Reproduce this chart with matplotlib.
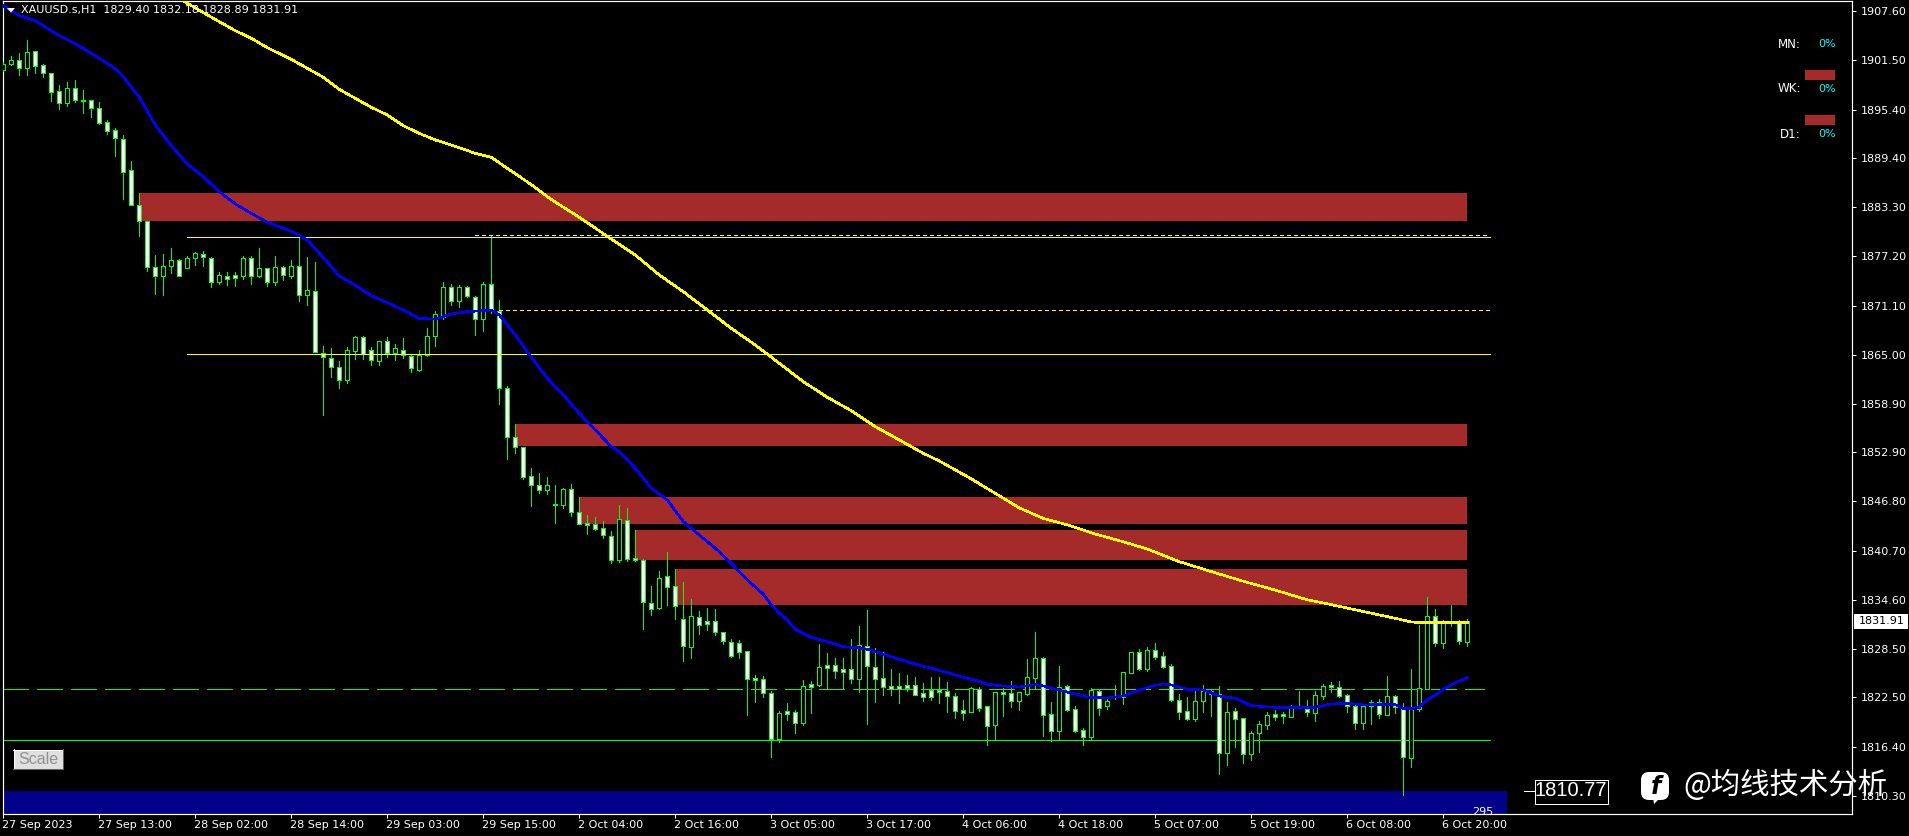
import matplotlib
matplotlib.use('Agg')
import matplotlib.pyplot as plt
from matplotlib.patches import Rectangle, FancyBboxPatch, Polygon
from matplotlib.transforms import Affine2D

# Bars, oldest first
opens = [
    1900.32, 1901.02, 1901.52, 1900.61, 1902.63, 1900.90, 1899.91, 1897.67, 1896.27, 1898.04,
    1896.60, 1896.56, 1895.56, 1893.83, 1892.84, 1891.72, 1887.88, 1883.53, 1881.55, 1875.85,
    1874.73, 1875.97, 1876.71, 1875.72, 1876.96, 1877.54, 1876.96, 1874.07, 1874.77, 1874.89,
    1874.81, 1876.96, 1874.81, 1875.72, 1874.07, 1875.85, 1874.81, 1875.97, 1872.37, 1872.87,
    1865.26, 1864.64, 1863.53, 1861.91, 1865.51, 1867.16, 1865.63, 1864.27, 1866.67, 1865.26,
    1865.63, 1864.81, 1863.15, 1864.93, 1867.29, 1869.73, 1873.45, 1871.63, 1873.45, 1872.21,
    1869.40, 1873.82, 1870.47, 1860.83, 1854.76, 1853.60, 1849.92, 1848.80, 1848.18, 1846.53,
    1846.41, 1848.31, 1845.45, 1844.09, 1843.97, 1843.47, 1842.48, 1839.58, 1844.46, 1839.75,
    1839.50, 1834.17, 1833.63, 1837.52, 1836.28, 1832.18, 1828.79, 1832.51, 1831.93, 1831.93,
    1830.57, 1829.33, 1829.21, 1828.21, 1824.91, 1824.74, 1823.00, 1817.38, 1820.81, 1820.65,
    1819.37, 1824.12, 1824.04, 1826.52, 1826.48, 1826.02, 1825.98, 1824.82, 1828.83, 1826.31,
    1824.86, 1823.91, 1823.91, 1824.00, 1824.00, 1823.05, 1823.38, 1823.38, 1823.25, 1822.63,
    1820.94, 1820.73, 1823.50, 1821.39, 1819.12, 1823.13, 1823.00, 1822.10, 1822.96, 1824.95,
    1827.35, 1820.40, 1818.37, 1823.87, 1821.02, 1818.42, 1817.63, 1823.25, 1821.48, 1822.63,
    1822.51, 1825.57, 1828.09, 1826.02, 1828.34, 1827.59, 1826.35, 1822.14, 1820.77, 1819.86,
    1822.01, 1823.25, 1822.96, 1815.65, 1820.77, 1819.90, 1815.52, 1818.13, 1819.12, 1820.40,
    1820.40, 1820.11, 1821.39, 1821.10, 1820.61, 1822.72, 1824.04, 1823.83, 1822.76, 1821.39,
    1819.37, 1821.39, 1821.89, 1820.36, 1822.63, 1821.19, 1815.03, 1821.06, 1823.54, 1832.55,
    1829.20, 1831.97, 1831.73, 1829.40,
]
highs = [
    1901.35, 1902.05, 1902.39, 1904.04, 1902.63, 1901.02, 1899.91, 1898.46, 1898.79, 1899.08,
    1897.84, 1896.56, 1896.35, 1894.08, 1893.08, 1892.22, 1888.99, 1885.02, 1881.55, 1877.33,
    1877.50, 1878.24, 1876.88, 1877.25, 1877.75, 1877.83, 1877.13, 1875.27, 1875.27, 1875.31,
    1877.25, 1877.25, 1878.24, 1875.72, 1877.25, 1875.97, 1876.75, 1879.48, 1877.13, 1876.51,
    1866.09, 1865.80, 1864.23, 1865.96, 1867.33, 1867.33, 1866.01, 1866.67, 1867.21, 1866.30,
    1867.04, 1864.97, 1865.59, 1868.28, 1870.39, 1874.03, 1873.74, 1873.61, 1873.53, 1872.25,
    1874.03, 1879.86, 1871.79, 1861.08, 1856.41, 1853.60, 1850.95, 1850.33, 1849.84, 1848.84,
    1848.47, 1848.97, 1847.36, 1845.12, 1844.88, 1844.34, 1843.10, 1846.36, 1845.99, 1843.26,
    1839.63, 1836.32, 1838.18, 1840.54, 1838.43, 1836.81, 1834.70, 1833.17, 1833.59, 1833.46,
    1830.57, 1829.70, 1829.58, 1828.21, 1825.24, 1825.11, 1823.25, 1820.81, 1821.81, 1820.94,
    1824.66, 1824.49, 1829.12, 1827.97, 1827.39, 1827.39, 1829.70, 1831.36, 1833.34, 1828.59,
    1828.13, 1826.02, 1825.53, 1825.28, 1825.03, 1824.29, 1825.03, 1825.03, 1824.41, 1823.05,
    1822.18, 1823.79, 1823.79, 1821.39, 1823.13, 1823.67, 1824.53, 1823.13, 1827.26, 1830.61,
    1827.51, 1821.93, 1826.39, 1824.04, 1821.43, 1818.71, 1823.67, 1823.38, 1822.38, 1824.04,
    1825.61, 1828.09, 1828.46, 1828.71, 1829.25, 1828.13, 1826.60, 1822.92, 1822.55, 1823.29,
    1824.04, 1823.42, 1823.87, 1821.93, 1821.19, 1819.90, 1818.33, 1819.57, 1820.69, 1820.94,
    1820.69, 1821.56, 1823.29, 1822.18, 1823.29, 1824.16, 1824.41, 1824.53, 1822.92, 1821.56,
    1821.56, 1822.18, 1822.30, 1825.15, 1822.80, 1821.81, 1826.02, 1831.48, 1834.99, 1833.46,
    1832.10, 1833.96, 1832.10, 1832.18,
]
lows = [
    1900.24, 1900.98, 1899.74, 1899.74, 1899.99, 1899.49, 1896.52, 1895.52, 1895.85, 1896.31,
    1895.03, 1894.53, 1893.62, 1892.42, 1889.69, 1884.36, 1883.53, 1879.77, 1875.43, 1872.58,
    1872.46, 1875.18, 1874.73, 1875.72, 1876.13, 1876.01, 1873.45, 1873.82, 1873.65, 1873.53,
    1874.44, 1873.82, 1874.61, 1873.57, 1873.65, 1874.32, 1874.48, 1871.71, 1871.22, 1865.30,
    1857.57, 1862.29, 1860.92, 1861.54, 1864.52, 1864.52, 1863.77, 1863.73, 1864.77, 1864.39,
    1864.64, 1862.91, 1863.03, 1864.85, 1866.09, 1869.40, 1871.22, 1870.93, 1872.21, 1867.45,
    1867.99, 1870.14, 1858.90, 1852.11, 1852.85, 1849.63, 1846.28, 1847.89, 1847.69, 1844.17,
    1846.03, 1845.04, 1843.97, 1842.81, 1843.31, 1842.31, 1839.21, 1839.34, 1839.38, 1839.46,
    1830.98, 1832.72, 1833.50, 1833.96, 1832.22, 1827.01, 1827.39, 1830.36, 1830.86, 1830.28,
    1829.16, 1827.51, 1827.39, 1820.32, 1821.93, 1822.55, 1815.11, 1816.97, 1819.70, 1818.08,
    1819.08, 1820.57, 1823.91, 1823.67, 1824.91, 1823.50, 1824.33, 1823.17, 1819.20, 1821.93,
    1822.80, 1822.80, 1821.81, 1823.29, 1822.80, 1822.05, 1822.18, 1821.81, 1820.69, 1819.95,
    1819.70, 1820.73, 1820.81, 1816.60, 1817.34, 1820.19, 1821.31, 1820.94, 1822.80, 1823.50,
    1817.71, 1817.13, 1817.30, 1820.81, 1818.21, 1816.60, 1817.34, 1820.32, 1821.06, 1822.26,
    1821.68, 1825.57, 1825.86, 1825.77, 1827.26, 1826.15, 1822.05, 1819.82, 1819.66, 1819.57,
    1820.69, 1820.19, 1813.00, 1814.12, 1816.35, 1814.36, 1814.74, 1815.73, 1818.58, 1819.70,
    1819.33, 1820.07, 1821.19, 1820.19, 1819.57, 1822.30, 1823.17, 1822.59, 1820.69, 1818.58,
    1818.58, 1819.20, 1819.95, 1820.32, 1820.57, 1810.40, 1813.83, 1820.85, 1823.50, 1828.92,
    1828.67, 1831.40, 1829.08, 1828.89,
]
closes = [
    1901.06, 1901.52, 1900.61, 1902.55, 1900.86, 1899.91, 1897.63, 1896.27, 1898.04, 1896.64,
    1896.52, 1895.56, 1893.79, 1892.79, 1891.84, 1887.71, 1883.53, 1881.55, 1875.85, 1874.73,
    1875.97, 1876.71, 1874.73, 1876.96, 1877.58, 1877.09, 1873.98, 1874.85, 1874.44, 1874.56,
    1876.96, 1874.81, 1875.72, 1874.07, 1875.85, 1874.85, 1875.97, 1872.37, 1872.99, 1865.30,
    1864.77, 1863.53, 1861.83, 1865.55, 1867.16, 1865.06, 1864.31, 1866.67, 1865.26, 1865.80,
    1864.97, 1863.32, 1864.93, 1867.29, 1870.02, 1873.45, 1871.63, 1873.45, 1872.25, 1869.40,
    1873.74, 1870.55, 1860.84, 1854.76, 1853.60, 1849.88, 1848.80, 1848.18, 1848.80, 1846.32,
    1848.31, 1845.45, 1843.97, 1843.84, 1843.43, 1842.60, 1839.58, 1844.59, 1839.71, 1839.50,
    1834.29, 1833.42, 1837.27, 1836.24, 1833.88, 1828.83, 1832.55, 1831.52, 1831.64, 1830.57,
    1829.45, 1827.68, 1828.17, 1824.82, 1824.62, 1823.00, 1817.38, 1820.52, 1820.48, 1819.37,
    1823.87, 1823.83, 1826.23, 1826.19, 1825.82, 1825.69, 1824.74, 1828.96, 1826.44, 1824.82,
    1823.83, 1823.54, 1823.54, 1823.71, 1822.84, 1822.59, 1822.59, 1823.13, 1822.72, 1820.86,
    1820.61, 1823.62, 1821.23, 1818.99, 1823.13, 1822.88, 1822.10, 1823.13, 1824.99, 1827.35,
    1820.36, 1818.37, 1823.75, 1820.98, 1818.37, 1817.63, 1823.42, 1821.23, 1822.05, 1822.51,
    1825.61, 1828.09, 1826.06, 1828.34, 1827.55, 1826.31, 1822.22, 1820.73, 1819.86, 1822.01,
    1823.25, 1822.96, 1815.65, 1820.65, 1819.86, 1815.52, 1818.04, 1819.16, 1820.28, 1820.11,
    1820.15, 1821.35, 1821.27, 1820.65, 1822.76, 1823.87, 1823.75, 1822.72, 1821.39, 1819.37,
    1821.39, 1821.89, 1820.48, 1822.63, 1821.27, 1815.15, 1821.06, 1823.62, 1832.59, 1829.20,
    1831.69, 1831.69, 1829.45, 1831.91,
]

# Moving averages, read at these bars
blue_bars = [0, 2, 4, 6, 7, 9, 11, 13, 14, 15, 17, 19, 21, 23, 25, 27, 29, 31, 33, 35, 36, 38, 40, 42, 44, 46, 48,
             50, 52, 54, 56, 58, 60, 61, 62, 64, 66, 68, 70, 72, 74, 76, 77, 79, 81, 83, 85, 87, 89, 91, 93, 95,
             96, 97, 98, 99, 101, 103, 105, 107, 108, 110, 112, 114, 116, 118, 120, 122, 123, 125, 127, 129, 130,
             132, 134, 136, 138, 140, 142, 144, 145, 146, 148, 150, 152, 154, 156, 158, 160, 162, 164, 166, 168,
             170, 172, 174, 175, 176, 177, 178, 179, 180, 181, 182, 183]
blue_vals = [1908.30, 1907.06, 1906.44, 1905.20, 1904.58, 1903.58, 1902.39, 1901.15, 1900.44, 1899.49, 1896.93,
             1893.50, 1890.93, 1888.66, 1887.09, 1885.23, 1883.70, 1882.54, 1881.43, 1880.68, 1880.31, 1879.24,
             1877.04, 1874.77, 1873.61, 1872.33, 1871.46, 1870.55, 1869.48, 1869.44, 1870.06, 1870.35, 1870.47,
             1870.55, 1869.93, 1867.45, 1864.68, 1862.07, 1860.01, 1857.73, 1855.67, 1853.60, 1852.98, 1850.91,
             1848.43, 1846.98, 1844.30, 1842.64, 1840.99, 1839.13, 1837.06, 1835.30, 1833.96, 1832.93, 1832.10,
             1830.94, 1829.95, 1829.41, 1828.79, 1828.63, 1828.46, 1827.88, 1827.22, 1826.62, 1826.11, 1825.57,
             1824.99, 1824.49, 1824.12, 1823.91, 1823.79, 1824.08, 1823.91, 1823.38, 1822.92, 1822.47, 1822.43,
             1822.67, 1823.42, 1824.00, 1824.16, 1824.04, 1823.50, 1823.42, 1822.67, 1822.38, 1821.47, 1821.31,
             1821.23, 1821.23, 1821.27, 1821.68, 1821.76, 1821.56, 1821.60, 1821.60, 1821.10, 1821.10, 1821.35,
             1822.18, 1822.80, 1823.50, 1824.04, 1824.54, 1824.95]
yellow_bars = [22, 23, 25, 27, 29, 31, 33, 36, 38, 40, 42, 44, 46, 48, 50, 52, 54, 56, 59, 61, 63, 66, 68, 70, 72,
               73, 76, 79, 82, 85, 88, 91, 94, 97, 100, 103, 106, 109, 112, 115, 117, 121, 124, 127, 130, 133, 136,
               140, 143, 147, 151, 155, 159, 163, 166, 170, 174, 176, 177, 183]
yellow_vals = [1909.20, 1908.59, 1907.43, 1906.31, 1905.20, 1904.25, 1903.09, 1901.64, 1900.53, 1899.41, 1897.92,
               1896.80, 1895.69, 1894.74, 1893.41, 1892.46, 1891.64, 1891.02, 1889.98, 1889.49, 1888.12, 1886.10,
               1884.60, 1883.30, 1882.05, 1881.38, 1879.35, 1877.37, 1874.89, 1872.82, 1870.55, 1868.27, 1866.21,
               1863.93, 1861.66, 1859.72, 1858.06, 1856.08, 1854.43, 1852.77, 1851.82, 1849.60, 1847.80, 1846.00,
               1844.70, 1843.90, 1842.90, 1841.80, 1840.90, 1839.33, 1838.10, 1836.90, 1835.80, 1834.60, 1834.00,
               1833.15, 1832.30, 1831.85, 1831.77, 1831.77]

# Supply zones: first bar, upper price, lower price
zone_starts = [17, 64, 72, 79, 84]
zone_tops = [1885.06, 1856.41, 1847.36, 1843.26, 1838.43]
zone_bottoms = [1881.59, 1853.68, 1844.01, 1839.54, 1833.96]
zone_end = 183

# Horizontal lines
yellow_solid = [(23, 1879.57), (23, 1865.06)]
yellow_dashed = [(59, 1879.81), (62, 1870.51)]
green_dashed_level = 1823.50
green_solid_level = 1817.18
navy_top = 1810.89

time_labels = ['27 Sep 2023', '27 Sep 13:00', '28 Sep 02:00', '28 Sep 14:00', '29 Sep 03:00', '29 Sep 15:00',
               '2 Oct 04:00', '2 Oct 16:00', '3 Oct 05:00', '3 Oct 17:00', '4 Oct 06:00', '4 Oct 18:00',
               '5 Oct 07:00', '5 Oct 19:00', '6 Oct 08:00', '6 Oct 20:00']
time_ticks = [12 * n for n in range(len(time_labels))]
price_ticks = [1907.60, 1901.50, 1895.40, 1889.40, 1883.30, 1877.20, 1871.10, 1865.00, 1858.90,
               1852.90, 1846.80, 1840.70, 1834.60, 1828.50, 1822.50, 1816.40, 1810.30]
last_price = 1831.91

W, H = 1909, 836
GREEN = '#00ff00'
RED = '#a52a2a'
YELLOW = '#ffff00'
BLUE = '#0000ff'
NAVY = '#00008b'
PX = 0.72  # one pixel in points at dpi 100

plt.rcParams['font.family'] = ['DejaVu Sans']

fig = plt.figure(figsize=(W / 100, H / 100), dpi=100, facecolor='black')


def px_x(x):
    return x / W


def px_y(y):
    return 1 - y / H


def screen_rect(x, y, w, h, **kw):
    # rectangle given in screen pixels, y going down
    fig.patches.append(Rectangle((px_x(x), px_y(y + h)), w / W, h / H, transform=fig.transFigure, **kw))


def screen_line(x0, y0, x1, y1, color):
    fig.lines.append(plt.Line2D([px_x(x0), px_x(x1)], [px_y(y0), px_y(y1)], transform=fig.transFigure,
                                color=color, lw=PX, antialiased=False))


# plot area in pixels: x 2.5..1852, y 1..814
ax = fig.add_axes([px_x(2.5), px_y(814), px_x(1852 - 2.5), (814 - 1) / H], facecolor='black')
ax.set_xlim((2.5 - 3.33) / 8, (1852 - 3.33) / 8)
ax.set_ylim(1808.03, 1908.88)

for spine in ax.spines.values():
    spine.set_color('white')
    spine.set_linewidth(PX * 1.2)

# zones go behind everything
for start, top, bottom in zip(zone_starts, zone_tops, zone_bottoms):
    ax.add_patch(Rectangle((start, bottom), zone_end - start, top - bottom, facecolor=RED, edgecolor='none', zorder=1))

# green levels under the candles
line_end = (1490 - 3.33) / 8
ax.plot([0, (1484 - 3.33) / 8], [green_dashed_level] * 2, color=GREEN, lw=PX, dashes=(25, 8.3), zorder=2, antialiased=False)
ax.plot([-0.1, line_end], [green_solid_level] * 2, color=GREEN, lw=PX, zorder=2, antialiased=False)
ax.add_patch(Rectangle((-0.1, 1808.03), (1506.5 - 3.33) / 8 + 0.1, navy_top - 1808.03, facecolor=NAVY, edgecolor='none', zorder=2))

# candles, white body = down bar, hollow body = up bar
for i in range(len(opens)):
    o, h, l, c = opens[i], highs[i], lows[i], closes[i]
    ax.plot([i, i], [l, h], color=GREEN, lw=PX, zorder=3, antialiased=False, solid_capstyle='butt')
    face = 'black' if c >= o else 'white'
    ax.add_patch(Rectangle((i - 0.25, min(o, c)), 0.5, max(abs(c - o), 0.05), facecolor=face, edgecolor=GREEN,
                           lw=PX, zorder=3.5, antialiased=False))

# yellow levels sit on top of the candles
for start, level in yellow_solid:
    ax.plot([start, line_end], [level] * 2, color=YELLOW, lw=PX, zorder=4, antialiased=False)
for start, level in yellow_dashed:
    ax.plot([start, line_end], [level] * 2, color=YELLOW, lw=PX, dashes=(4, 4), zorder=4, antialiased=False)

ax.plot(yellow_bars, yellow_vals, color=YELLOW, lw=1.15, zorder=5, antialiased=False)
ax.plot(blue_bars, blue_vals, color=BLUE, lw=1.15, zorder=5, antialiased=False)

# axes
ax.set_xticks(time_ticks)
ax.set_xticklabels([])
ax.set_yticks(price_ticks)
ax.yaxis.tick_right()
ax.set_yticklabels([f'{p:.2f}' for p in price_ticks])
ax.tick_params(axis='y', colors='white', labelsize=8, length=3, width=PX, pad=3.5)
ax.tick_params(axis='x', colors='white', length=3, width=PX)
for tick, label in zip(time_ticks, time_labels):
    fig.text(px_x(3.33 + 8 * tick - 1), px_y(825.5), label, color='white', fontsize=8, va='center', ha='left')

# header
fig.text(px_x(21), px_y(10.5), 'XAUUSD.s,H1  1829.40 1832.18 1828.89 1831.91', color='white', fontsize=8, va='center', ha='left')
fig.patches.append(Polygon([[px_x(7), px_y(8)], [px_x(15), px_y(8)], [px_x(11), px_y(12.5)]], closed=True,
                           transform=fig.transFigure, facecolor='white', edgecolor='none'))

# multi timeframe panel
for name, y in zip(['MN:', 'WK:', 'D1:'], [44, 89, 134]):
    fig.text(px_x(1801), px_y(y), name, color='white', fontsize=8.6, va='center', ha='right')
    fig.text(px_x(1818), px_y(y), '0%', color='#00ffff', fontsize=8, va='center', ha='left')
for y in [70, 115]:
    screen_rect(1805, y, 30, 10, facecolor=RED, edgecolor='none', zorder=6)

# scale button
screen_rect(13.5, 749.5, 49.5, 19, facecolor='#e0e0e0', edgecolor='none')
screen_line(13, 749.5, 63, 749.5, 'white')
screen_line(13.5, 749, 13.5, 769, 'white')
screen_line(13, 768.5, 63, 768.5, '#606060')
screen_line(62.5, 749, 62.5, 769, '#606060')
fig.text(px_x(38), px_y(759.5), 'Scale', color='#909090', fontsize=11.5, ha='center', va='center', zorder=7,
         family='Liberation Sans')

# last price tag
screen_rect(1853.5, 614, 54.5, 14.5, facecolor='white', edgecolor='none', zorder=6)
fig.text(px_x(1859), px_y(621.5), f'{last_price:.2f}', color='black', fontsize=8, va='center', ha='left', zorder=7)

# 295 is cut by the time axis
ax.text((1483 - 3.33) / 8, 1808.25, '295', color='white', fontsize=8, ha='center', va='center', zorder=6, clip_on=True)

# box and watermark painted over the axis
screen_rect(1534.5, 779.5, 73, 24, facecolor='black', edgecolor='white', lw=PX, zorder=6)
screen_line(1524, 791, 1534, 791, 'white')
fig.text(px_x(1571), px_y(791), '1810.77', color='white', fontsize=14.5, ha='center', va='center', zorder=7,
         family='Liberation Sans')

logo = FancyBboxPatch((1643, 774), 24, 24, boxstyle='round,pad=2,rounding_size=8',
                      transform=Affine2D().scale(1 / W, -1 / H).translate(0, 1) + fig.transFigure,
                      facecolor='white', edgecolor='none', zorder=6)
fig.patches.append(logo)
fig.patches.append(Polygon([[px_x(1653), px_y(797)], [px_x(1661), px_y(797)], [px_x(1654), px_y(804)]], closed=True,
                           transform=fig.transFigure, facecolor='white', edgecolor='none', zorder=6))
fig.text(px_x(1655.5), px_y(787), 'f', color='black', fontsize=17, fontweight='bold', ha='center', va='center', zorder=7,
         style='italic')
fig.text(px_x(1683), px_y(785), '@均线技术分析', color='white', fontsize=21.2, ha='left', va='center', zorder=7,
         family=['Noto Sans CJK SC', 'DejaVu Sans'])

fig.savefig('out.png', dpi=100, facecolor='black')
